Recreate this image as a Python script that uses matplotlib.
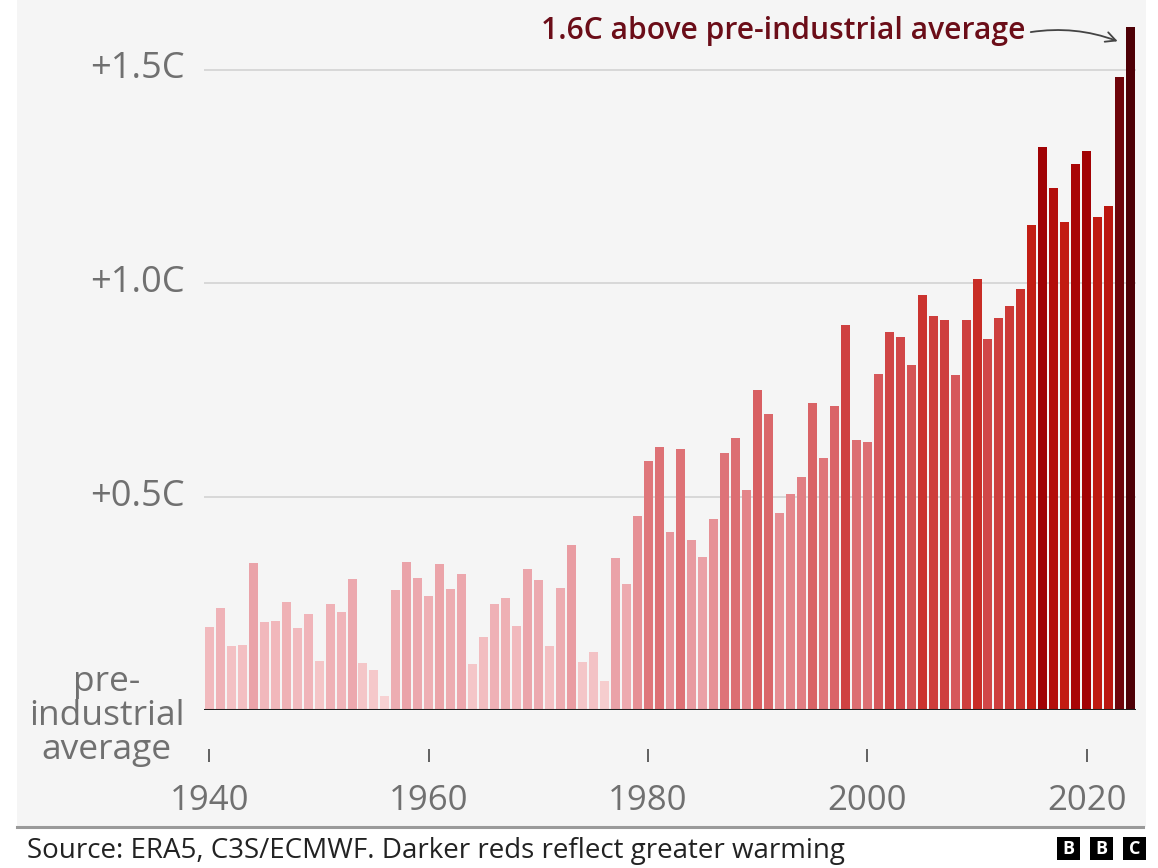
import matplotlib
matplotlib.use("Agg")
import matplotlib.pyplot as plt
from matplotlib import font_manager
from matplotlib.colors import LinearSegmentedColormap, Normalize
from matplotlib.transforms import blended_transform_factory
from matplotlib.patches import Rectangle
from matplotlib.lines import Line2D

# Annual global temperature above the pre-industrial average (C)
years = list(range(1940, 2025))
anomaly = [
    0.194, 0.240, 0.150, 0.152, 0.344, 0.206, 0.208, 0.253, 0.192, 0.225,  # 1940s
    0.115, 0.248, 0.230, 0.307, 0.110, 0.094, 0.033, 0.280, 0.347, 0.310,  # 1950s
    0.267, 0.342, 0.283, 0.318, 0.108, 0.170, 0.248, 0.262, 0.197, 0.330,  # 1960s
    0.304, 0.150, 0.286, 0.386, 0.112, 0.136, 0.068, 0.356, 0.295, 0.454,  # 1970s
    0.583, 0.616, 0.417, 0.611, 0.398, 0.358, 0.447, 0.602, 0.637, 0.515,  # 1980s
    0.749, 0.693, 0.461, 0.506, 0.546, 0.719, 0.590, 0.712, 0.902, 0.632,  # 1990s
    0.628, 0.787, 0.885, 0.874, 0.808, 0.972, 0.923, 0.913, 0.785, 0.913,  # 2000s
    1.009, 0.869, 0.918, 0.946, 0.986, 1.136, 1.318, 1.222, 1.143, 1.279,  # 2010s
    1.309, 1.155, 1.180, 1.482, 1.600,                                     # 2020s
]

ytick_values = [0.5, 1.0, 1.5]
ytick_labels = ["+0.5C", "+1.0C", "+1.5C"]
xtick_years = [1940, 1960, 1980, 2000, 2020]
baseline_label = "pre-\nindustrial\naverage"
headline = "1.6C above pre-industrial average"
source_text = "Source: ERA5, C3S/ECMWF. Darker reds reflect greater warming"
logo_letters = ["B", "B", "C"]

available = {f.name for f in font_manager.fontManager.ttflist}
body_font = "Open Sans" if "Open Sans" in available else "DejaVu Sans"

W, H = 1158, 868
fig = plt.figure(figsize=(W / 100, H / 100), dpi=100, facecolor="white")

# light grey panel behind the chart
fig.patches.append(Rectangle((17 / W, 41 / H), (1146 - 17) / W, 1 - 41 / H,
                             transform=fig.transFigure, facecolor="#f5f5f5",
                             edgecolor="none", zorder=-10))

ax = fig.add_axes([204 / W, 158 / H, 932 / W, 710 / H])
ax.set_facecolor("none")
for s in ax.spines.values():
    s.set_visible(False)
ax.set_xticks([])
ax.set_yticks([])
ax.set_xlim(1939.5, 2024.5)
ax.set_ylim(0, 710 / 427)

# colour scale: darker reds for greater warming
anchors = [
    (0.00, (248, 214, 214)),
    (0.20, (241, 184, 188)),
    (0.35, (234, 162, 168)),
    (0.50, (228, 135, 140)),
    (0.62, (221, 112, 116)),
    (0.75, (216, 95, 98)),
    (0.90, (207, 66, 66)),
    (1.00, (201, 46, 40)),
    (1.14, (194, 28, 18)),
    (1.30, (165, 2, 4)),
    (1.48, (112, 4, 10)),
    (1.60, (78, 0, 6)),
]
vmax = anchors[-1][0]
cmap = LinearSegmentedColormap.from_list(
    "warming", [(v / vmax, tuple(c / 255 for c in rgb)) for v, rgb in anchors])
norm = Normalize(0, vmax)

# gridlines and baseline
for v in ytick_values:
    ax.axhline(v, color="#d8d8d8", lw=1.4, zorder=1)

ax.bar(years, anomaly, width=0.82, color=cmap(norm(anomaly)), edgecolor="none", zorder=2)
ax.axhline(0, color="#1e1e1e", lw=2.2, zorder=3)

label_color = "#707070"

# y labels
ytrans = blended_transform_factory(ax.transAxes, ax.transData)
for v, lab in zip(ytick_values, ytick_labels):
    ax.text(-0.021, v, lab, transform=ytrans, ha="right", va="center",
            fontsize=26, color=label_color, family=body_font)
ax.text(-0.021, -0.015, baseline_label, transform=ytrans, ha="right", va="center",
        multialignment="center", fontsize=25.5, color=label_color, family=body_font,
        linespacing=1.0)

# x ticks and labels
for yr in xtick_years:
    ax.plot([yr, yr], [-0.092, -0.122], color="#555555", lw=1.3, clip_on=False,
            solid_capstyle="butt")
    ax.text(yr, -0.213, str(yr), ha="center", va="center", fontsize=25,
            color=label_color, family=body_font)

# headline with arrow to the latest year
ax.annotate(headline,
            xy=(years[-1] - 1.05, anomaly[-1] - 0.035), xycoords="data",
            xytext=(2014.4, 1.589), textcoords="data",
            ha="right", va="center", fontsize=21.6, fontweight="semibold",
            color="#6b0d18", family=body_font,
            arrowprops=dict(arrowstyle="->", color="#444444", lw=1.3,
                            connectionstyle="arc3,rad=-0.14",
                            relpos=(1.0, 0.45),
                            shrinkA=2, shrinkB=1, mutation_scale=18))

# footer
fig.add_artist(Line2D([17 / W, 1143 / W], [41 / H, 41 / H], color="#9a9a9a", lw=2.2))
fig.text(27 / W, (H - 851) / H, source_text, ha="left", va="center",
         fontsize=20, color="#222222", family=body_font)
for i, letter in enumerate(logo_letters):
    x0 = 1057 + 33 * i
    fig.patches.append(Rectangle((x0 / W, (H - 860) / H), 23 / W, 23 / H,
                                 transform=fig.transFigure, facecolor="black",
                                 edgecolor="none"))
    fig.text((x0 + 11.5) / W, (H - 848.5) / H, letter, ha="center", va="center",
             fontsize=13, fontweight="bold", color="white", family=body_font)

fig.savefig("out.png", dpi=100, facecolor=fig.get_facecolor())
